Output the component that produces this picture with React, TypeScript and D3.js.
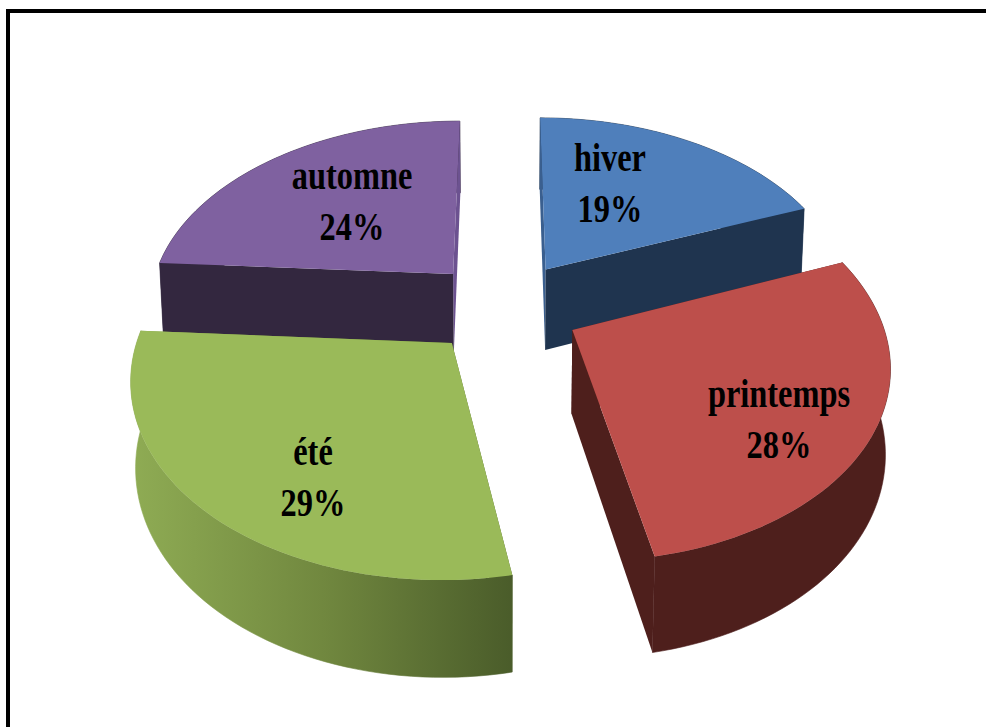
import React from "react";
import * as d3 from "d3";

const seasons = ["hiver", "printemps", "été", "automne"];
const shares = [19, 28, 29, 24];
const topColors = ["#4f7fbb", "#bd4f4b", "#9aba59", "#7f61a0"];
const wallColors = ["#1f344f", "#4e1f1c", "url(#wallGreen)", "#33273f"];
// Radial faces that turn almost edge-on catch more light than the other walls
const startFaceColors = ["#3a5f8f", "#4e1f1c", "url(#wallGreen)", "#33273f"];
const endFaceColors = ["#1f344f", "#4e1f1c", "url(#wallGreen)", "#6c5290"];
const labelCenters = [610, 779, 313, 352];
const labelBaselines = [171, 407, 465, 189];

const WIDTH = 986;
const HEIGHT = 727;

// Perspective camera looking down on a unit-radius pie
const tilt = (37.6 * Math.PI) / 180;
const camDist = 5;
const focal = 1530;
const originX = 504;
const originY = 307;
const explode = 0.25;
const thickness = 0.345;
// Softens the convergence of the walls so they stay close to vertical
const wallConvergence = 0.3;

type Pt = [number, number];

function project(x: number, far: number, y: number): Pt {
  const depth = camDist + far * Math.cos(tilt) - y * Math.sin(tilt) * wallConvergence;
  return [
    originX + (focal * x) / depth,
    originY + (focal * (-far * Math.sin(tilt) - y * Math.cos(tilt))) / depth,
  ];
}

const arcs = d3.pie<number>().sort(null)(shares);
const line = d3.line<Pt>();

function slicePaths(a: d3.PieArcDatum<number>, i: number) {
  const mid = (a.startAngle + a.endAngle) / 2;
  const ox = explode * Math.sin(mid);
  const oz = explode * Math.cos(mid);
  const rim = (t: number, y: number) => project(ox + Math.sin(t), oz + Math.cos(t), y);
  const apex = (y: number) => project(ox, oz, y);
  const steps = d3.range(0, 61).map((k) => a.startAngle + ((a.endAngle - a.startAngle) * k) / 60);
  const topRim = steps.map((t) => rim(t, 0));
  const lowRim = steps.map((t) => rim(t, -thickness));
  const startFace = {
    d: line([apex(0), topRim[0], lowRim[0], apex(-thickness)])! + "Z",
    fill: startFaceColors[i],
  };
  const endFace = {
    d: line([apex(0), topRim[60], lowRim[60], apex(-thickness)])! + "Z",
    fill: endFaceColors[i],
  };
  const outer = {
    d: line([...topRim, ...[...lowRim].reverse()])! + "Z",
    fill: wallColors[i],
  };
  // Lit faces go down before the dark wall they share an edge with
  const radial = endFaceColors[i] !== wallColors[i] ? [endFace, startFace] : [startFace, endFace];
  return { top: line([apex(0), ...topRim])! + "Z", faces: [outer, ...radial] };
}

// Far slices are painted first so the nearer ones cover them
const paintOrder = [0, 3, 1, 2];

export default function App() {
  return (
    <svg
      width={WIDTH}
      height={HEIGHT}
      viewBox={`0 0 ${WIDTH} ${HEIGHT}`}
      style={{ position: "absolute", left: 0, top: 0, display: "block", background: "#fff" }}
    >
      <defs>
        <linearGradient id="wallGreen" gradientUnits="userSpaceOnUse" x1={130} x2={513} y1={0} y2={0}>
          <stop offset="0" stopColor="#8fac54" />
          <stop offset="0.5" stopColor="#71883f" />
          <stop offset="1" stopColor="#4a5c2a" />
        </linearGradient>
      </defs>
      <rect x={8} y={11} width={1200} height={1000} fill="none" stroke="#000" strokeWidth={4} />
      {paintOrder.map((i) => {
        const p = slicePaths(arcs[i], i);
        return (
          <g key={seasons[i]}>
            {p.faces.map((f, j) => (
              <path key={j} d={f.d} fill={f.fill} stroke={j === 0 ? f.fill : "none"} strokeWidth={0.6} />
            ))}
            <path d={p.top} fill={topColors[i]} />
          </g>
        );
      })}
      {seasons.map((s, i) => (
        <g key={s} fontFamily="'Liberation Serif'" fontWeight="bold" fontSize={40} textAnchor="middle" fill="#000">
          <text transform={`translate(${labelCenters[i]},${labelBaselines[i]}) scale(0.81,1)`}>{s}</text>
          <text transform={`translate(${labelCenters[i]},${labelBaselines[i] + 51}) scale(0.81,1)`}>{shares[i]}%</text>
        </g>
      ))}
    </svg>
  );
}
